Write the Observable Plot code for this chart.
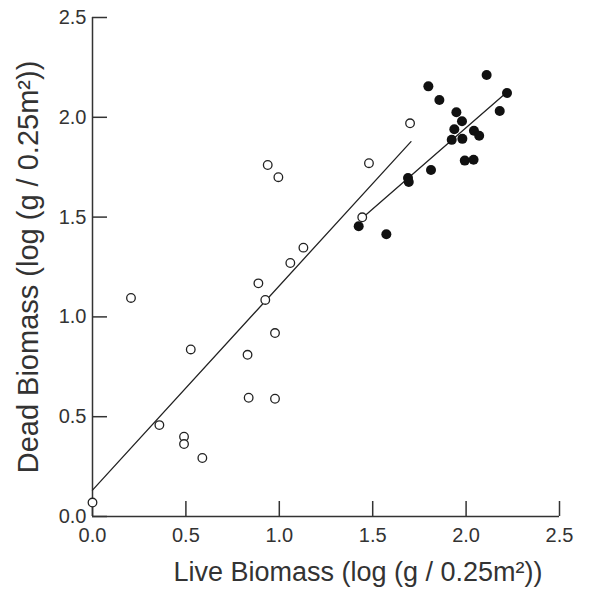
<!DOCTYPE html>
<html>
<head>
<meta charset="utf-8">
<script src="https://cdn.jsdelivr.net/npm/d3@7"></script>
<script src="https://cdn.jsdelivr.net/npm/@observablehq/plot@0.6"></script>
<style>
  html, body { margin: 0; padding: 0; background: #fff; }
  #chart svg { display: block; }
</style>
</head>
<body>
<div id="chart"></div>
<script>
// Open circles (live biomass, dead biomass)
const openX = [0.00, 0.206, 0.358, 0.49, 0.49, 0.526, 0.588, 0.83, 0.836, 0.888, 0.925, 0.977, 0.977, 1.059, 1.129, 0.938, 0.995, 1.444, 1.48, 1.70];
const openY = [0.07, 1.095, 0.458, 0.40, 0.363, 0.837, 0.293, 0.81, 0.595, 1.168, 1.085, 0.919, 0.59, 1.27, 1.347, 1.761, 1.70, 1.499, 1.77, 1.97];
// Filled circles
const filledX = [1.425, 1.573, 1.689, 1.693, 1.812, 1.798, 1.857, 1.923, 1.937, 1.948, 1.978, 1.98, 1.993, 2.04, 2.042, 2.07, 2.11, 2.18, 2.219];
const filledY = [1.454, 1.414, 1.696, 1.676, 1.736, 2.155, 2.087, 1.887, 1.94, 2.025, 1.98, 1.892, 1.783, 1.787, 1.933, 1.908, 2.212, 2.032, 2.122];
// Fitted lines (endpoints)
const openFitX = [0.0, 1.705];
const openFitY = [0.132, 1.878];
const filledFitX = [1.432, 2.201];
const filledFitY = [1.486, 2.112];
// Ticks
const xTicks = [0, 0.5, 1.0, 1.5, 2.0, 2.5];
const yTicks = [0, 0.5, 1.0, 1.5, 2.0, 2.5];
const xTitle = "Live Biomass (log (g / 0.25m²))";
const yTitle = "Dead Biomass (log (g / 0.25m²))";

const openData = openX.map((x, i) => ({x, y: openY[i]}));
const filledData = filledX.map((x, i) => ({x, y: filledY[i]}));
const openFit = openFitX.map((x, i) => ({x, y: openFitY[i]}));
const filledFit = filledFitX.map((x, i) => ({x, y: filledFitY[i]}));

const ink = "#333";
const narrow = "'Liberation Sans Narrow', 'Arial Narrow', 'Liberation Sans', sans-serif";

const chart = Plot.plot({
  width: 616,
  height: 592,
  marginLeft: 92,
  marginRight: 57,
  marginTop: 17,
  marginBottom: 76,
  style: { fontFamily: "'Liberation Sans', Arial, sans-serif", color: ink, background: "#fff" },
  x: { domain: [0, 2.5] },
  y: { domain: [0, 2.5] },
  marks: [
    Plot.ruleY([0], { stroke: ink, strokeWidth: 1.5 }),
    Plot.ruleX([0], { stroke: ink, strokeWidth: 1.5 }),
    Plot.axisX({ ticks: xTicks, tickSize: -15, tickFormat: () => "", label: null, stroke: ink, strokeWidth: 1.5 }),
    Plot.axisY({ ticks: yTicks, tickSize: -15, tickFormat: () => "", label: null, stroke: ink, strokeWidth: 1.5 }),
    Plot.axisX({ ticks: xTicks, tickSize: 0, tickPadding: 11, tickFormat: d3.format(".1f"), label: null, fontSize: 20, fontFamily: narrow, fill: ink }),
    Plot.axisY({ ticks: yTicks, tickSize: 0, tickPadding: 6, tickFormat: d3.format(".1f"), label: null, fontSize: 20, fontFamily: narrow, fill: ink }),
    Plot.line(openFit, { x: "x", y: "y", stroke: "#222", strokeWidth: 1.3 }),
    Plot.line(filledFit, { x: "x", y: "y", stroke: "#222", strokeWidth: 1.3 }),
    Plot.dot(openData, { x: "x", y: "y", r: 4.3, stroke: "#222", strokeWidth: 1.3, fill: "#fff" }),
    Plot.dot(filledData, { x: "x", y: "y", r: 5, fill: "#111", stroke: "none" }),
    Plot.text([xTitle], { frameAnchor: "bottom", dy: 64, dx: 32, fontSize: 27, fill: ink }),
    Plot.text([yTitle], { frameAnchor: "left", textAnchor: "middle", dx: -64, rotate: -90, fontSize: 29, fill: ink })
  ]
});
document.getElementById("chart").appendChild(chart);
</script>
</body>
</html>
